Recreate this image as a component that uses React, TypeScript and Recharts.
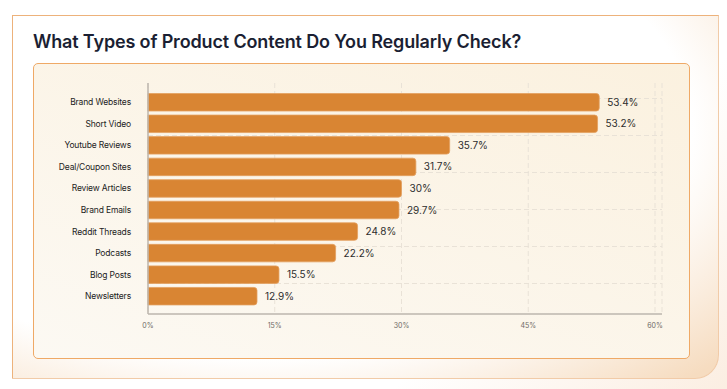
import { BarChart, Bar, XAxis, YAxis, CartesianGrid, LabelList } from "recharts";

const categories = [
  "Brand Websites",
  "Short Video",
  "Youtube Reviews",
  "Deal/Coupon Sites",
  "Review Articles",
  "Brand Emails",
  "Reddit Threads",
  "Podcasts",
  "Blog Posts",
  "Newsletters",
];
const shares = [53.4, 53.2, 35.7, 31.7, 30, 29.7, 24.8, 22.2, 15.5, 12.9];
const xTicks = [0, 15, 30, 45, 60];

const data = categories.map((name, i) => ({ name, value: shares[i] }));

const font = "Inter, 'Noto Sans', Arial, sans-serif";

// plain one-line tick so long names don't wrap
function CategoryTick({ x, y, payload }: any) {
  return (
    <text
      x={x}
      y={y}
      dy="0.35em"
      textAnchor="end"
      fontSize={8.5}
      letterSpacing={-0.15}
      fill="#222222"
      fontFamily={font}
    >
      {payload.value}
    </text>
  );
}

export default function App() {
  return (
    <div
      style={{
        position: "absolute",
        left: 0,
        top: 0,
        width: 727,
        height: 389,
        overflow: "hidden",
        background: "linear-gradient(135deg, #ffffff 70%, #fbeee2 100%)",
        fontFamily: font,
      }}
    >
      {/* outer card */}
      <div
        style={{
          position: "absolute",
          left: 12,
          top: 15,
          width: 705,
          height: 362,
          borderStyle: "solid",
          borderWidth: 1.5,
          borderColor: "#edb27b #f1cba8 #f1cba8 #edb27b",
          borderBottomRightRadius: 24,
          background:
            "radial-gradient(ellipse 90% 95% at 35% 30%, #ffffff 68%, #f6dcc0 100%), #fff",
        }}
      />
      <div
        style={{
          position: "absolute",
          left: 33,
          top: 33,
          fontSize: 18,
          letterSpacing: -0.15,
          lineHeight: 1,
          fontWeight: 600,
          color: "#1b1f33",
          whiteSpace: "nowrap",
        }}
      >
        What Types of Product Content Do You Regularly Check?
      </div>
      {/* inner card */}
      <div
        style={{
          position: "absolute",
          left: 33,
          top: 63,
          width: 655,
          height: 294,
          border: "1px solid #efa966",
          borderRadius: 5,
          background: "linear-gradient(200deg, #fbf1df 0%, #fcf9f3 100%)",
        }}
      />
      <div style={{ position: "absolute", left: 0, top: 0 }}>
        <BarChart
          width={727}
          height={389}
          data={data}
          layout="vertical"
          margin={{ top: 83, right: 65, bottom: 45, left: 48 }}
          barSize={17.5}
        >
          <CartesianGrid
            stroke="#e9e2d7"
            strokeDasharray="5 3"
            horizontalCoordinatesGenerator={({ offset }: any) =>
              [0, 1, 2, 3, 4, 5].map((i) => offset.top + 15.5 + i * 37)
            }
          />
          <XAxis
            type="number"
            domain={[0, 60]}
            ticks={xTicks}
            padding={{ left: 0, right: 7 }}
            tickFormatter={(v: number) => `${v}%`}
            stroke="#bcb6ae"
            strokeWidth={1.5}
            tickLine={false}
            tickSize={0}
            tickMargin={9}
            height={30}
            tick={{ fontSize: 7, fill: "#6e6a66", fontFamily: font }}
          />
          <YAxis
            type="category"
            dataKey="name"
            width={100}
            stroke="#bcb6ae"
            strokeWidth={1.5}
            tickLine={false}
            tickSize={0}
            tickMargin={17}
            padding={{ top: 8.5, bottom: 7 }}
            interval={0}
            tick={<CategoryTick />}
          />
          <Bar
            dataKey="value"
            fill="#d98533"
            stroke="#e3a060"
            strokeWidth={0.8}
            radius={[0, 3, 3, 0]}
            isAnimationActive={false}
          >
            <LabelList
              dataKey="value"
              position="right"
              offset={8}
              formatter={(v: any) => `${v}%`}
              style={{ fontSize: 10, fill: "#2d2d2d", fontFamily: font }}
            />
          </Bar>
        </BarChart>
      </div>
    </div>
  );
}
